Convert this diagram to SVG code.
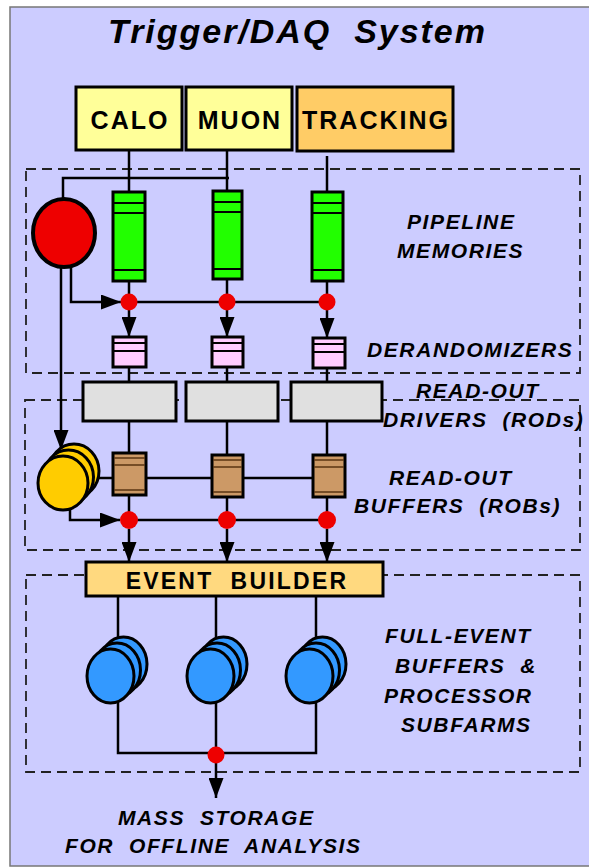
<svg xmlns="http://www.w3.org/2000/svg" width="589" height="867" viewBox="0 0 589 867">
<defs>
<marker id="ah" markerUnits="userSpaceOnUse" markerWidth="20" markerHeight="15" refX="20" refY="7.5" orient="auto"><path d="M0,0 L20,7.5 L0,15 z" fill="#000"/></marker>
<style>
.frame{fill:none;stroke:#222;stroke-width:1.8;stroke-dasharray:10 6}
.ln{fill:none;stroke:#000;stroke-width:2.5}
.box{stroke:#000;stroke-width:3}
.src{fill:#FFFF99}
.trk{fill:#FFCC66}
.pipe{fill:#22FF00}
.der{fill:#FFCCFF}
.rod{fill:#E0E0E0}
.rob{fill:#CC9966}
.in{stroke:#000;stroke-width:2}
.inb{stroke:#5a3412;stroke-width:1.6}
.dot{fill:#EE0000}
.yel{fill:#FFCC00;stroke:#000;stroke-width:3}
.blu{fill:#3399FF;stroke:#000;stroke-width:3}
.t{font-family:"Liberation Sans",Arial,sans-serif;font-weight:bold;fill:#000;white-space:pre}
.lbl{font-style:italic;font-size:21px;letter-spacing:1.6px}
.bx{font-size:25px;letter-spacing:2px;text-anchor:middle}
</style>
</defs>
<rect x="10" y="7" width="590" height="859" fill="#CCCCFF" stroke="#777" stroke-width="1.5"/>
<g id="frames">
<rect class="frame" x="26" y="169" width="554" height="204"/>
<rect class="frame" x="25" y="400" width="555" height="150"/>
<rect class="frame" x="26" y="575" width="554" height="197"/>
</g>
<text class="t" x="108" y="43" font-size="34" font-style="italic" textLength="377" lengthAdjust="spacing">Trigger/DAQ  System</text>
<g id="connectors">
<path class="ln" d="M129,150 V302 M227,150 V302 M327,156 V302"/>
<path class="ln" d="M63,199 V178 H229"/>
<path class="ln" d="M71,267 V302 H121" marker-end="url(#ah)"/>
<path class="ln" d="M129,302 H327"/>
<path class="ln" d="M129,310 V337" marker-end="url(#ah)"/>
<path class="ln" d="M227,310 V337" marker-end="url(#ah)"/>
<path class="ln" d="M327,310 V338" marker-end="url(#ah)"/>
<path class="ln" d="M129,367 V382 M227,367 V382 M327,368 V382"/>
<path class="ln" d="M129,421 V520 M227,421 V520 M327,421 V520"/>
<path class="ln" d="M97,478 H327"/>
<path class="ln" d="M61,267 V450" marker-end="url(#ah)"/>
<path class="ln" d="M70,506 V520 H120" marker-end="url(#ah)"/>
<path class="ln" d="M129,520 H327"/>
<path class="ln" d="M129,529 V562" marker-end="url(#ah)"/>
<path class="ln" d="M227,529 V562" marker-end="url(#ah)"/>
<path class="ln" d="M327,529 V562" marker-end="url(#ah)"/>
<path class="ln" d="M118,596 V640 M216,596 V640 M316,596 V640"/>
<path class="ln" d="M118,700 V753 H316 V700 M216,700 V753"/>
<path class="ln" d="M216,755 V798" marker-end="url(#ah)"/>
</g>
<g id="calo"><rect class="box src" x="76" y="87" width="106" height="63"/><text class="t bx" x="130" y="129">CALO</text></g>
<g id="muon"><rect class="box src" x="186" y="87" width="106" height="63"/><text class="t bx" x="240" y="129">MUON</text></g>
<g id="tracking"><rect class="box trk" x="297" y="87" width="156" height="64"/><text class="t bx" x="376" y="129">TRACKING</text></g>
<g id="trigger"><ellipse cx="64" cy="233" rx="31" ry="34" fill="#EE0000" stroke="#000" stroke-width="4"/></g>
<g id="pipe1"><rect class="box pipe" x="113" y="192" width="32" height="89"/><path class="in" d="M113,203 H145 M113,213 H145 M113,270 H145"/></g>
<g id="pipe2"><rect class="box pipe" x="213" y="191" width="29" height="88"/><path class="in" d="M213,202 H242 M213,212 H242 M213,269 H242"/></g>
<g id="pipe3"><rect class="box pipe" x="312" y="192" width="31" height="89"/><path class="in" d="M312,203 H343 M312,213 H343 M312,270 H343"/></g>
<g id="dots1"><circle class="dot" cx="129" cy="302" r="8.5"/><circle class="dot" cx="227" cy="302" r="8.5"/><circle class="dot" cx="327" cy="302" r="8.5"/></g>
<g id="der1"><rect class="box der" x="113" y="337" width="33" height="30"/><path class="in" d="M113,343 H146 M113,351 H146"/></g>
<g id="der2"><rect class="box der" x="212" y="337" width="31" height="30"/><path class="in" d="M212,343 H243 M212,351 H243"/></g>
<g id="der3"><rect class="box der" x="313" y="338" width="32" height="30"/><path class="in" d="M313,344 H345 M313,352 H345"/></g>
<g id="rod1"><rect class="box rod" x="83" y="382" width="93" height="39"/></g>
<g id="rod2"><rect class="box rod" x="186" y="382" width="92" height="39"/></g>
<g id="rod3"><rect class="box rod" x="291" y="382" width="91" height="39"/></g>
<g id="rob1"><rect class="box rob" x="113" y="453" width="33" height="42"/><path class="inb" d="M114,458 H145 M114,465 H145 M114,490 H145"/></g>
<g id="rob2"><rect class="box rob" x="212" y="455" width="31" height="42"/><path class="inb" d="M213,460 H242 M213,467 H242 M213,492 H242"/></g>
<g id="rob3"><rect class="box rob" x="313" y="455" width="32" height="42"/><path class="inb" d="M314,460 H344 M314,467 H344 M314,492 H344"/></g>
<g id="roi"><ellipse class="yel" cx="74" cy="471" rx="25" ry="27"/><ellipse class="yel" cx="68.5" cy="477" rx="25" ry="27"/><ellipse class="yel" cx="63" cy="483" rx="25" ry="27"/></g>
<g id="dots2"><circle class="dot" cx="129" cy="520" r="9"/><circle class="dot" cx="227" cy="520" r="9"/><circle class="dot" cx="327" cy="520" r="9"/></g>
<g id="eb"><rect class="box" fill="#FFD97F" x="86" y="562" width="297" height="34"/><text class="t" x="237" y="589" font-size="23" letter-spacing="2.2" text-anchor="middle">EVENT  BUILDER</text></g>
<g id="farm1"><ellipse class="blu" cx="123.5" cy="664" rx="23.5" ry="27"/><ellipse class="blu" cx="117" cy="670" rx="23.5" ry="27"/><ellipse class="blu" cx="110.5" cy="676" rx="23.5" ry="27"/></g>
<g id="farm2"><ellipse class="blu" cx="223.5" cy="664" rx="23.5" ry="27"/><ellipse class="blu" cx="217" cy="670" rx="23.5" ry="27"/><ellipse class="blu" cx="210.5" cy="676" rx="23.5" ry="27"/></g>
<g id="farm3"><ellipse class="blu" cx="322.5" cy="664" rx="23.5" ry="27"/><ellipse class="blu" cx="316" cy="670" rx="23.5" ry="27"/><ellipse class="blu" cx="309.5" cy="676" rx="23.5" ry="27"/></g>
<g id="dot3"><circle class="dot" cx="216" cy="755" r="8.5"/></g>
<g id="labels">
<text class="t lbl" x="407" y="229">PIPELINE</text>
<text class="t lbl" x="397" y="258">MEMORIES</text>
<text class="t lbl" x="367" y="357">DERANDOMIZERS</text>
<text class="t lbl" x="416" y="398">READ-OUT</text>
<text class="t lbl" x="383" y="427">DRIVERS  (RODs)</text>
<text class="t lbl" x="389" y="485">READ-OUT</text>
<text class="t lbl" x="354" y="513">BUFFERS  (ROBs)</text>
<text class="t lbl" x="385" y="643">FULL-EVENT</text>
<text class="t lbl" x="395" y="673">BUFFERS  &amp;</text>
<text class="t lbl" x="384" y="703">PROCESSOR</text>
<text class="t lbl" x="401" y="732">SUBFARMS</text>
<text class="t lbl" x="118" y="825">MASS  STORAGE</text>
<text class="t lbl" x="65" y="853">FOR  OFFLINE  ANALYSIS</text>
</g>
</svg>
